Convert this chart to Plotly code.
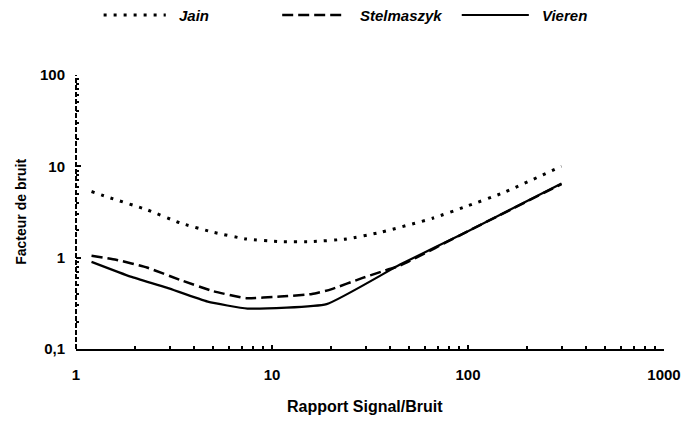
import plotly.graph_objects as go

# Noise factor versus signal-to-noise ratio, three models
snr_jain = [1.2, 1.5, 2.3, 3.4, 5, 7.4, 11, 16, 24, 36, 66, 100, 150, 300]
jain = [5.3, 4.5, 3.35, 2.4, 1.9, 1.6, 1.5, 1.5, 1.6, 1.9, 2.7, 3.7, 5.1, 10.0]

snr_stel = [1.2, 1.6, 2.3, 3.4, 5, 7.4, 11, 16, 20, 29, 36, 45, 100, 300]
stel = [1.05, 0.95, 0.78, 0.57, 0.43, 0.36, 0.375, 0.40, 0.45, 0.60, 0.70, 0.82, 1.95, 6.4]

snr_vieren = [1.2, 1.9, 2.9, 4.7, 7.5, 19, 45, 100, 300]
vieren = [0.90, 0.62, 0.47, 0.33, 0.277, 0.31, 0.84, 1.95, 6.5]

x_ticks = [1, 10, 100, 1000]
x_ticktext = ["1", "10", "100", "1000"]
y_ticks = [0.1, 1, 10, 100]
y_ticktext = ["0,1", "1", "10", "100"]

series_names = ["Jain", "Stelmaszyk", "Vieren"]

FONT = "Liberation Sans, Arial, sans-serif"

W, H = 693, 421
ML, MR, MT, MB = 76, 21, 75, 72
PW, PH = W - ML - MR, H - MT - MB


def px_x(p):
    return (p - ML) / PW


def px_y(p):
    return (H - MB - p) / PH


styles = [
    dict(color="black", width=3, dash="3px,7px"),
    dict(color="black", width=2.5, dash="11px,5px"),
    dict(color="black", width=2.2, dash="solid"),
]

fig = go.Figure()
for name, xs, ys, st in zip(series_names,
                            [snr_jain, snr_stel, snr_vieren],
                            [jain, stel, vieren], styles):
    fig.add_trace(go.Scatter(x=xs, y=ys, mode="lines", name=name,
                             line=st, line_shape="spline",
                             line_smoothing=0.4, showlegend=False))

# Legend drawn above the plot: sample line + italic label
legend_rows = [
    (104, 167, 178),
    (285, 345, 362),
    (467, 535, 546),
]
ly = px_y(15)
for name, st, (x0, x1, tx) in zip(series_names, styles, legend_rows):
    fig.add_shape(type="line", xref="paper", yref="paper",
                  x0=px_x(x0), x1=px_x(x1), y0=ly, y1=ly,
                  line=dict(color="black", width=st["width"], dash=st["dash"]))
    fig.add_annotation(xref="paper", yref="paper", x=px_x(tx), y=ly,
                       text=name, showarrow=False, xanchor="left",
                       yanchor="middle",
                       font=dict(family=FONT, size=15, color="black",
                                 style="italic", weight="bold"))

# Broken-looking vertical axis line
fig.add_shape(type="line", xref="paper", yref="paper",
              x0=0, x1=0, y0=0, y1=1,
              line=dict(color="black", width=2, dash="5px,2px"))

# Axis titles
fig.add_annotation(xref="paper", yref="paper", x=px_x(369), y=px_y(406),
                   text="Rapport Signal/Bruit", showarrow=False,
                   xanchor="center", yanchor="middle",
                   font=dict(family=FONT, size=16, color="black", weight="bold"))
fig.add_annotation(xref="paper", yref="paper", x=px_x(20), y=px_y(212),
                   text="Facteur de bruit", showarrow=False, textangle=-90,
                   xanchor="center", yanchor="middle",
                   font=dict(family=FONT, size=14, color="black", weight="bold"))

axis_font = dict(family=FONT, size=15, color="black", weight="bold")

fig.update_xaxes(type="log", range=[0, 3], tickmode="array",
                 tickvals=x_ticks, ticktext=x_ticktext,
                 showline=True, linecolor="black", linewidth=2,
                 ticks="inside", ticklen=4, tickwidth=1.5, tickcolor="black",
                 minor=dict(ticks="inside", ticklen=3, tickcolor="black",
                            dtick="D1", showgrid=False),
                 showgrid=False, zeroline=False,
                 tickfont=axis_font, ticklabelstandoff=11)
fig.update_yaxes(type="log", range=[-1, 2], tickmode="array",
                 tickvals=y_ticks, ticktext=y_ticktext,
                 showline=False,
                 ticks="inside", ticklen=5, tickwidth=1.5, tickcolor="black",
                 minor=dict(ticks="inside", ticklen=3, tickcolor="black",
                            dtick="D1", showgrid=False),
                 showgrid=False, zeroline=False,
                 tickfont=axis_font, ticklabelstandoff=10)

fig.update_layout(width=W, height=H, autosize=False,
                  margin=dict(l=ML, r=MR, t=MT, b=MB),
                  paper_bgcolor="white", plot_bgcolor="white",
                  showlegend=False)

fig.write_html("out.html")
